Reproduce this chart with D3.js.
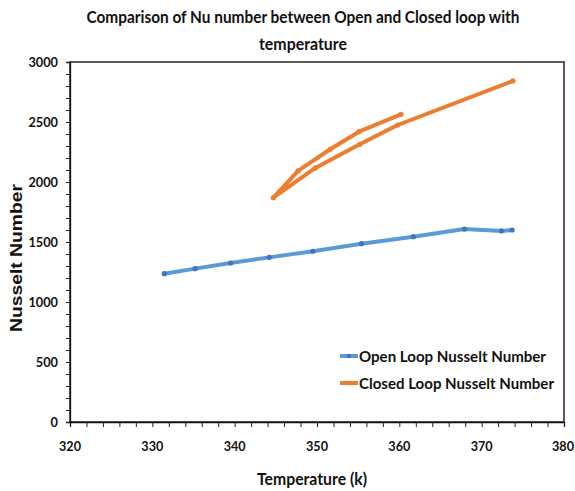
<!DOCTYPE html>
<html>
<head>
<meta charset="utf-8">
<script src="https://cdn.jsdelivr.net/npm/d3@7/dist/d3.min.js"></script>
<style>
  html, body { margin: 0; padding: 0; background: #fff; }
  svg { display: block; }
</style>
</head>
<body>
<svg id="chart" width="575" height="491"></svg>
<script>
// Nusselt number vs temperature for the two loop configurations
const openTemp = [331.45, 335.2, 339.5, 344.2, 349.5, 355.4, 361.7, 367.9, 372.4, 373.7];
const openNu   = [1236, 1278, 1325, 1372, 1423, 1486, 1544, 1608, 1592, 1600];

const closedTemp = [360.2, 355.1, 351.6, 347.7, 344.7, 349.8, 355.2, 359.8, 373.8];
const closedNu   = [2564, 2419, 2273, 2092, 1869, 2117, 2314, 2475, 2842];

const seriesNames = ["Open Loop Nusselt Number", "Closed Loop Nusselt Number"];
const xTicks = [320, 330, 340, 350, 360, 370, 380];
const yTicks = [0, 500, 1000, 1500, 2000, 2500, 3000];

const titleLines = ["Comparison of Nu number between Open and Closed loop with", "temperature"];
const xTitle = "Temperature (k)";
const yTitle = "Nusselt Number";

const svg = d3.select("#chart");
const m = { left: 70, right: 11, top: 62, bottom: 69 };
const W = 575, H = 491;

const x = d3.scaleLinear().domain([320, 380]).range([m.left, W - m.right]);
const y = d3.scaleLinear().domain([0, 3000]).range([H - m.bottom, m.top]);

const face = "Lato, 'Liberation Sans', sans-serif";

// fits a text run to a set width, the way a condensed face would sit
function fit(sel, w) {
  return sel.attr("textLength", w).attr("lengthAdjust", "spacingAndGlyphs");
}

// title
const titleWidths = [433, 88];
svg.append("g").selectAll("text").data(titleLines).join("text")
  .attr("x", 303).attr("y", (d, i) => 23 + i * 27)
  .attr("text-anchor", "middle")
  .attr("font-family", face).attr("font-weight", "bold").attr("font-size", 17)
  .attr("fill", "#111")
  .text(d => d)
  .each(function (d, i) { fit(d3.select(this), titleWidths[i]); });

// plot frame
svg.append("rect")
  .attr("x", x(320)).attr("y", y(3000))
  .attr("width", x(380) - x(320)).attr("height", y(0) - y(3000))
  .attr("fill", "none").attr("stroke", "#333").attr("stroke-width", 1.6);

// x axis: labelled every 10, minor ticks every 2
const xAxis = svg.append("g").attr("transform", `translate(0,${y(0)})`)
  .call(d3.axisBottom(x).tickValues(d3.range(320, 381, 2)).tickSize(5).tickFormat(""));
xAxis.select(".domain").attr("stroke", "#111").attr("stroke-width", 1.3);
xAxis.selectAll(".tick line").attr("stroke", "#222");
svg.append("g").selectAll("text").data(xTicks).join("text")
  .attr("x", d => Math.min(x(d), W - 12)).attr("y", y(0) + 29)
  .attr("text-anchor", "middle")
  .attr("font-family", face).attr("font-weight", "bold").attr("font-size", 14)
  .attr("fill", "#111").text(d => d)
  .each(function () { fit(d3.select(this), 22); });

// y axis: labelled every 500, minor ticks every 100
const yAxis = svg.append("g").attr("transform", `translate(${x(320)},0)`)
  .call(d3.axisLeft(y).tickValues(d3.range(0, 3001, 100)).tickSize(4).tickFormat(""));
yAxis.select(".domain").attr("stroke", "#111").attr("stroke-width", 1.3);
yAxis.selectAll(".tick line").attr("stroke", "#222");
svg.append("g").selectAll("text").data(yTicks).join("text")
  .attr("x", x(320) - 12).attr("y", d => y(d) + 5)
  .attr("text-anchor", "end")
  .attr("font-family", face).attr("font-weight", "bold").attr("font-size", 14)
  .attr("fill", "#111").text(d => d)
  .each(function (d) { fit(d3.select(this), String(d).length * 7.4); });

// axis titles
fit(svg.append("text").attr("x", 312).attr("y", 485)
  .attr("text-anchor", "middle")
  .attr("font-family", face).attr("font-weight", "bold").attr("font-size", 17)
  .attr("fill", "#111").text(xTitle), 110);
fit(svg.append("text")
  .attr("transform", `translate(22,${(y(0) + y(3000)) / 2 + 16}) rotate(-90)`)
  .attr("text-anchor", "middle")
  .attr("font-family", "'Liberation Sans', Arial, sans-serif").attr("font-weight", "bold").attr("font-size", 16)
  .attr("fill", "#111").text(yTitle), 148);

// series
const series = [
  { name: seriesNames[0], t: openTemp, v: openNu, line: "#5B9BD5", dot: "#4472C4", w: 187 },
  { name: seriesNames[1], t: closedTemp, v: closedNu, line: "#ED7D31", dot: "#ED7D31", w: 195 }
];
const line = d3.line().x(d => x(d[0])).y(d => y(d[1]));

series.forEach(s => {
  const pts = s.t.map((t, i) => [t, s.v[i]]);
  svg.append("path").datum(pts)
    .attr("d", line)
    .attr("fill", "none").attr("stroke", s.line).attr("stroke-width", 4)
    .attr("stroke-linejoin", "round").attr("stroke-linecap", "round");
  svg.append("g").selectAll("circle").data(pts).join("circle")
    .attr("cx", d => x(d[0])).attr("cy", d => y(d[1])).attr("r", 2.6)
    .attr("fill", s.dot);
});

// legend
const lg = svg.append("g").attr("transform", "translate(340,356)");
series.forEach((s, i) => {
  const g = lg.append("g").attr("transform", `translate(0,${i * 27})`);
  g.append("line").attr("x1", 0).attr("x2", 18).attr("y1", 0).attr("y2", 0)
    .attr("stroke", s.line).attr("stroke-width", 4);
  g.append("circle").attr("cx", 9).attr("cy", 0).attr("r", 2.2).attr("fill", s.dot);
  fit(g.append("text").attr("x", 19).attr("y", 6)
    .attr("font-family", face).attr("font-weight", "bold").attr("font-size", 16)
    .attr("fill", "#111").text(s.name), s.w);
});
</script>
</body>
</html>
